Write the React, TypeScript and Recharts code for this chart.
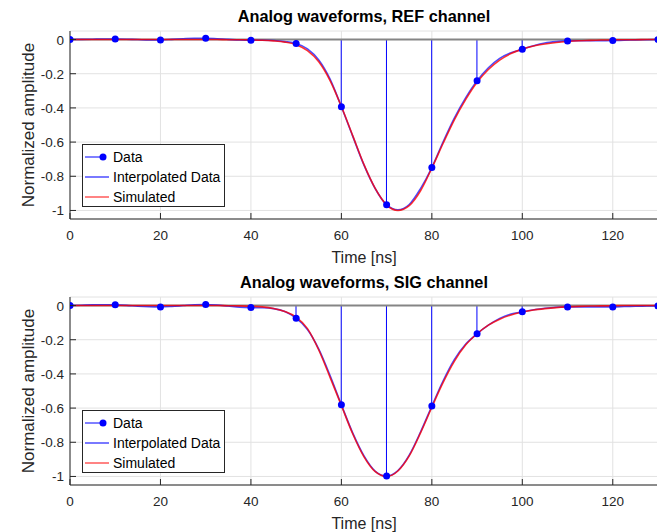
import {
  ComposedChart,
  Line,
  Bar,
  XAxis,
  YAxis,
  CartesianGrid,
  ReferenceLine,
  Legend,
} from 'recharts'

// time grid of the smooth curves [ns]
const timeFine = [
  0, 2.5, 5, 7.5, 10, 12.5, 15, 17.5, 20, 22.5, 25, 27.5, 30, 32.5, 35, 37.5,
  40, 42.5, 45, 47.5, 50, 52.5, 55, 57.5, 60, 62.5, 65, 67.5, 70, 72.5, 75, 77.5,
  80, 82.5, 85, 87.5, 90, 92.5, 95, 97.5, 100, 102.5, 105, 107.5, 110, 112.5,
  115, 117.5, 120, 122.5, 125, 127.5, 130,
]

const refSimulated = [
  0, 0, 0, 0, 0, 0, 0, 0, 0, 0, 0, 0, 0, 0, -0.001, -0.001,
  -0.002, -0.004, -0.008, -0.015, -0.03, -0.065, -0.13, -0.24,
  -0.392, -0.562, -0.732, -0.872, -0.967, -1.0, -0.972, -0.885,
  -0.752, -0.607, -0.468, -0.35, -0.25, -0.175, -0.12, -0.082,
  -0.056, -0.038, -0.026, -0.017, -0.011, -0.007, -0.005, -0.003,
  -0.002, -0.001, -0.001, 0, 0,
]

const refInterpolated = [
  0, 0.001, 0.002, 0.003, 0.003, 0.002, 0, -0.002, -0.002, 0.001, 0.005, 0.008,
  0.008, 0.005, 0.001, -0.003, -0.004, -0.004, -0.006, -0.012,
  -0.023, -0.055, -0.12, -0.232, -0.393, -0.565, -0.735, -0.873,
  -0.967, -0.996, -0.965, -0.872, -0.749, -0.598, -0.458, -0.34,
  -0.241, -0.165, -0.11, -0.077, -0.057, -0.036, -0.02, -0.012,
  -0.008, -0.007, -0.007, -0.007, -0.006, -0.004, -0.002, -0.001, 0,
]

const sigSimulated = [
  0, 0, 0, 0, 0, 0, 0, 0, 0, 0, 0, 0, 0, 0, -0.001, -0.002,
  -0.004, -0.008, -0.017, -0.035, -0.068, -0.135, -0.26, -0.42,
  -0.585, -0.75, -0.885, -0.972, -1.0, -0.968, -0.88, -0.745,
  -0.595, -0.45, -0.325, -0.23, -0.165, -0.115, -0.08, -0.055,
  -0.038, -0.026, -0.018, -0.012, -0.008, -0.005, -0.003, -0.002,
  -0.001, 0, 0, 0, 0,
]

const sigInterpolated = [
  0, 0.002, 0.004, 0.005, 0.004, 0.001, -0.004, -0.007, -0.008, -0.005, 0, 0.005,
  0.006, 0.003, -0.003, -0.009, -0.012, -0.013, -0.018, -0.035,
  -0.074, -0.14, -0.255, -0.41, -0.581, -0.745, -0.88, -0.97,
  -0.998, -0.965, -0.875, -0.74, -0.588, -0.44, -0.315, -0.225,
  -0.165, -0.115, -0.075, -0.05, -0.037, -0.025, -0.016, -0.01,
  -0.008, -0.008, -0.008, -0.008, -0.008, -0.006, -0.004, -0.003, -0.002,
]

// sampled data [ns]
const sampleTimes = [0, 10, 20, 30, 40, 50, 60, 70, 80, 90, 100, 110, 120, 130]
const refSamples = [0, 0.003, -0.002, 0.008, -0.004, -0.023, -0.393, -0.967, -0.749, -0.241, -0.057, -0.008, -0.006, 0]
const sigSamples = [0, 0.004, -0.008, 0.006, -0.012, -0.074, -0.581, -0.998, -0.588, -0.165, -0.037, -0.008, -0.008, -0.002]

const xTicks = [0, 20, 40, 60, 80, 100, 120]
const yTicks = [-1, -0.8, -0.6, -0.4, -0.2, 0]

const TEXT = '#262626'
const AXIS = '#262626'
const DATA_BLUE = '#0000ff'
const INTERP_BLUE = '#0000ff'
const SIM_RED = '#ff0000'
const TICK_LEN = 6

function buildRows(sim: number[], interp: number[], samples: number[]) {
  return timeFine.map((t, i) => {
    const k = sampleTimes.indexOf(t)
    return { t, sim: sim[i], interp: interp[i], data: k >= 0 ? samples[k] : null }
  })
}

function BottomTick(props: any) {
  const { x, y, payload } = props
  return (
    <g>
      <line x1={x} x2={x} y1={y} y2={y - TICK_LEN} stroke={AXIS} />
      <text x={x} y={y + 21} textAnchor="middle" fontSize={13.5} fill={TEXT}>
        {payload.value}
      </text>
    </g>
  )
}

function TopTick(props: any) {
  const { x, y } = props
  return <line x1={x} x2={x} y1={y} y2={y + TICK_LEN} stroke={AXIS} />
}

function LeftTick(props: any) {
  const { x, y, payload } = props
  return (
    <g>
      <line x1={x} x2={x + TICK_LEN} y1={y} y2={y} stroke={AXIS} />
      <text x={x - 6} y={y + 5} textAnchor="end" fontSize={13.5} fill={TEXT}>
        {String(payload.value)}
      </text>
    </g>
  )
}

function LegendBox() {
  return (
    <svg width={143} height={63} style={{ display: 'block' }}>
      <rect x={0.5} y={0.5} width={142} height={62} fill="#fff" stroke={AXIS} />
      <line x1={3} x2={21} y1={13} y2={13} stroke={DATA_BLUE} />
      <circle cx={21} cy={13} r={3.5} fill={DATA_BLUE} />
      <text x={31} y={17.5} fontSize={14} fill="#000">Data</text>
      <line x1={3} x2={27} y1={33} y2={33} stroke={INTERP_BLUE} strokeOpacity={0.7} strokeWidth={1.5} />
      <text x={31} y={37.5} fontSize={14} fill="#000">Interpolated Data</text>
      <line x1={3} x2={27} y1={53} y2={53} stroke={SIM_RED} strokeOpacity={0.65} strokeWidth={1.5} />
      <text x={31} y={57.5} fontSize={14} fill="#000">Simulated</text>
    </svg>
  )
}

interface PanelProps {
  title: string
  simulated: number[]
  interpolated: number[]
  samples: number[]
}

function Panel({ title, simulated, interpolated, samples }: PanelProps) {
  const rows = buildRows(simulated, interpolated, samples)
  return (
    <ComposedChart
      width={660}
      height={266}
      data={rows}
      margin={{ top: 31, right: 2, bottom: 3, left: 0 }}
    >
      <text x={364} y={21.5} textAnchor="middle" fontSize={16.3} fontWeight="bold" fill="#000">
        {title}
      </text>
      <CartesianGrid stroke="#e2e2e2" />
      <XAxis
        dataKey="t"
        type="number"
        domain={[0, 130]}
        ticks={xTicks}
        interval={0}
        allowDataOverflow
        height={44}
        tickSize={0}
        tickMargin={0}
        stroke={AXIS}
        tick={(p: any) => <BottomTick {...p} />}
        label={{
          value: 'Time [ns]',
          position: 'insideBottom',
          offset: 0,
          style: { fontSize: 16, fill: TEXT },
        }}
      />
      <XAxis
        xAxisId="top"
        orientation="top"
        dataKey="t"
        type="number"
        domain={[0, 130]}
        ticks={xTicks}
        interval={0}
        allowDataOverflow
        height={0}
        tickSize={0}
        tickMargin={0}
        stroke={AXIS}
        tick={(p: any) => <TopTick {...p} />}
      />
      <YAxis
        type="number"
        domain={[-1.05, 0.05]}
        ticks={yTicks}
        interval={0}
        allowDataOverflow
        width={70}
        tickSize={0}
        tickMargin={0}
        stroke={AXIS}
        tick={(p: any) => <LeftTick {...p} />}
        label={{
          value: 'Normalized amplitude',
          angle: -90,
          position: 'insideLeft',
          offset: 27.5,
          style: { textAnchor: 'middle', fontSize: 17, fill: TEXT },
        }}
      />
      <ReferenceLine y={0} stroke="#858585" strokeWidth={2} />
      <Bar dataKey="data" fill={DATA_BLUE} barSize={1} isAnimationActive={false} />
      <Line
        dataKey="interp"
        type="monotone"
        stroke={INTERP_BLUE}
        strokeOpacity={0.7}
        strokeWidth={1.6}
        dot={false}
        isAnimationActive={false}
      />
      <Line
        dataKey="sim"
        type="monotone"
        stroke={SIM_RED}
        strokeOpacity={0.8}
        strokeWidth={1.6}
        dot={false}
        isAnimationActive={false}
      />
      <Line
        dataKey="data"
        stroke="none"
        dot={{ r: 3.5, fill: DATA_BLUE, stroke: 'none' }}
        isAnimationActive={false}
      />
      <Legend
        layout="horizontal"
        verticalAlign="middle"
        align="center"
        wrapperStyle={{ left: 82, top: 144, width: 143, height: 63, lineHeight: 0 }}
        content={() => <LegendBox />}
      />
    </ComposedChart>
  )
}

export default function App() {
  return (
    <div
      style={{
        position: 'relative',
        width: 657,
        height: 532,
        overflow: 'hidden',
        background: '#fff',
        fontFamily: '"Liberation Sans", Arial, sans-serif',
      }}
    >
      <style>{'body{margin:0}'}</style>
      <div style={{ position: 'absolute', left: 0, top: 0 }}>
        <Panel
          title="Analog waveforms, REF channel"
          simulated={refSimulated}
          interpolated={refInterpolated}
          samples={refSamples}
        />
      </div>
      <div style={{ position: 'absolute', left: 0, top: 266 }}>
        <Panel
          title="Analog waveforms, SIG channel"
          simulated={sigSimulated}
          interpolated={sigInterpolated}
          samples={sigSamples}
        />
      </div>
    </div>
  )
}
